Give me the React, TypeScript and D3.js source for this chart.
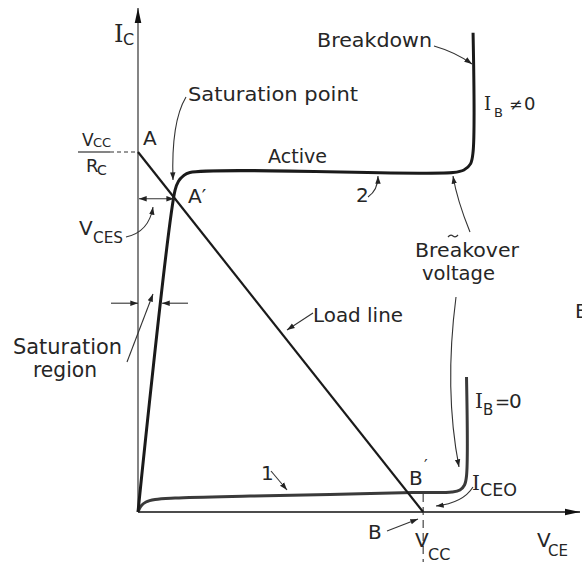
import React from "react";
import * as d3 from "d3";

// Transistor output characteristic: I_C against V_CE, with load line.
const WIDTH = 582;
const HEIGHT = 562;

const V_MAX = 15.5; // extent of the V_CE axis (arbitrary units)
const I_MAX = 14; // extent of the I_C axis (arbitrary units)
const VCC = 10; // supply voltage, where the load line meets the V_CE axis
const IC_SAT = 10; // Vcc / Rc, where the load line meets the I_C axis
const VCES = 1.3; // saturation voltage at A'

// Curve 2: I_B ≠ 0 (saturation rise, active plateau, breakdown)
const activeV = [0, 1.3, 1.42, 1.58, 1.82, 11.05, 11.43, 11.66, 11.75, 11.75];
const activeI = [0, 8.94, 9.19, 9.33, 9.43, 9.43, 9.5, 9.67, 10.0, 13.31];

// Curve 1: I_B = 0 (cut-off leakage I_CEO, then breakover)
const cutoffV = [0, 0.105, 0.28, 0.6, 1.3, 3.93, 6.73, 9.64, 11.01, 11.29, 11.45, 11.52, 11.52];
const cutoffI = [0, 0.167, 0.278, 0.347, 0.389, 0.444, 0.486, 0.542, 0.556, 0.611, 0.75, 1.0, 3.75];

// Load line from A (0, Vcc/Rc) to B (Vcc, 0)
const loadV = [0, VCC];
const loadI = [IC_SAT, 0];

const SANS = "'DejaVu Sans', 'Liberation Sans', sans-serif";
const SERIF = "'DejaVu Serif', 'Liberation Serif', serif";
const INK = "#1a1a1a";
const TEXT = "#262626";

export default function App() {
  const x = d3.scaleLinear().domain([0, V_MAX]).range([138, 580]);
  const y = d3.scaleLinear().domain([0, I_MAX]).range([512, 8]);

  const curve = d3
    .line<[number, number]>()
    .x((d) => x(d[0]))
    .y((d) => y(d[1]))
    .curve(d3.curveCatmullRom.alpha(0.5));
  const straight = d3
    .line<[number, number]>()
    .x((d) => x(d[0]))
    .y((d) => y(d[1]));

  const zip = (a: number[], b: number[]) => a.map((v, i) => [v, b[i]] as [number, number]);

  const activePath = curve(zip(activeV, activeI)) || "";
  const cutoffPath = curve(zip(cutoffV, cutoffI)) || "";
  const loadPath = straight(zip(loadV, loadI)) || "";

  // operating points
  const iAprime = IC_SAT * (1 - VCES / VCC);
  const yA = y(IC_SAT);
  const yAp = y(iAprime);
  const xAp = x(VCES);
  const xB = x(VCC);
  const x0 = x(0);
  const y0 = y(0);

  // width of the saturation region at mid height
  const satI = 5.8;
  const satX = x((activeV[1] * satI) / activeI[1]);
  const satY = y(satI);

  const leader = { fill: "none", stroke: "#333", strokeWidth: 1.1 } as const;

  return (
    <svg
      width={WIDTH}
      height={HEIGHT}
      viewBox={`0 0 ${WIDTH} ${HEIGHT}`}
      style={{ position: "absolute", left: 0, top: 0, background: "#fff" }}
    >
      <defs>
        <marker
          id="ah"
          viewBox="0 0 10 10"
          refX="10"
          refY="5"
          markerWidth="7"
          markerHeight="7"
          orient="auto-start-reverse"
        >
          <path d="M0,1.5 L10,5 L0,8.5 z" fill="#222" />
        </marker>
        <marker
          id="axisHead"
          viewBox="0 0 10 10"
          refX="10"
          refY="5"
          markerWidth="15"
          markerHeight="15"
          markerUnits="userSpaceOnUse"
          orient="auto"
        >
          <path d="M0,2.8 L10,5 L0,7.2 z" fill="#111" />
        </marker>
      </defs>
      <rect width={WIDTH} height={HEIGHT} fill="#fff" />

      {/* axes */}
      <line x1={x0} y1={y0} x2={x0} y2={y(I_MAX)} stroke="#333" strokeWidth={1.2} markerEnd="url(#axisHead)" />
      <line x1={x0} y1={y0} x2={x(V_MAX)} y2={y0} stroke="#111" strokeWidth={1.6} markerEnd="url(#axisHead)" />

      {/* Vcc/Rc projection and Vcc drop line */}
      <line x1={110} y1={yA} x2={x0} y2={yA} stroke="#333" strokeWidth={1.1} strokeDasharray="4,3" />
      <line x1={xB} y1={y(0.5)} x2={xB} y2={HEIGHT} stroke="#333" strokeWidth={1.1} strokeDasharray="8,5" />

      {/* characteristic curves */}
      <path d={cutoffPath} fill="none" stroke="#3a3a3a" strokeWidth={3} strokeLinejoin="round" />
      <path d={activePath} fill="none" stroke={INK} strokeWidth={3} strokeLinejoin="round" />
      <path d={loadPath} fill="none" stroke={INK} strokeWidth={2.2} />

      {/* V_CES dimension */}
      <line x1={x0 + 1} y1={yAp} x2={xAp - 1} y2={yAp} {...leader} markerStart="url(#ah)" markerEnd="url(#ah)" />
      {/* saturation region dimension */}
      <line x1={111} y1={satY} x2={x0} y2={satY} {...leader} markerEnd="url(#ah)" />
      <line x1={188} y1={satY} x2={satX} y2={satY} {...leader} markerEnd="url(#ah)" />

      {/* leaders */}
      <path d="M186,97 Q171,122 173,180" {...leader} markerEnd="url(#ah)" />
      <path d="M126,237 Q149,232 153,207" {...leader} markerEnd="url(#ah)" />
      <path d="M127,362 L153,294" {...leader} markerEnd="url(#ah)" />
      <path d="M313,313 L287,330" {...leader} markerEnd="url(#ah)" />
      <path d="M434,46 Q455,52 472,64" {...leader} markerEnd="url(#ah)" />
      <path d="M368,197 Q378,190 378,176" {...leader} markerEnd="url(#ah)" />
      <path d="M271,471 L287,490" {...leader} markerEnd="url(#ah)" />
      <path d="M470,232 Q457,200 453,176" {...leader} markerEnd="url(#ah)" />
      <path d="M456,297 Q444,390 459,467" {...leader} markerEnd="url(#ah)" />
      <path d="M473,487 Q463,503 436,506" {...leader} markerEnd="url(#ah)" />
      <path d="M387,531 L418,519" {...leader} markerEnd="url(#ah)" />

      {/* text labels */}
      <g fill={TEXT} fontFamily={SANS} fontSize={20}>
        <text x={114} y={42} fontFamily={SERIF} fontSize={24}>I</text>
        <text x={123} y={45} fontSize={16}>C</text>

        <text x={82} y={146} fontSize={17}>V</text>
        <text x={93} y={147} fontSize={13}>CC</text>
        <line x1={78} y1={yA} x2={110} y2={yA} stroke="#333" strokeWidth={1.2} />
        <text x={86} y={172} fontSize={18}>R</text>
        <text x={97} y={175} fontSize={14}>C</text>

        <text x={143} y={145}>A</text>
        <text x={188} y={203}>A′</text>

        <text x={79} y={235}>V</text>
        <text x={93} y={243} fontSize={16} textLength={30} lengthAdjust="spacingAndGlyphs">CES</text>

        <text x={188} y={101} textLength={170} lengthAdjust="spacingAndGlyphs">Saturation point</text>
        <text x={268} y={163} textLength={59} lengthAdjust="spacingAndGlyphs">Active</text>
        <text x={356} y={202}>2</text>
        <text x={317} y={47} textLength={115} lengthAdjust="spacingAndGlyphs">Breakdown</text>

        <text x={484} y={110} fontFamily={SERIF} fontSize={18}>I</text>
        <text x={494} y={117} fontSize={13}>B</text>
        <text x={509} y={110} fontSize={16}>≠</text>
        <text x={524} y={110} fontSize={18}>0</text>

        <text x={415} y={257} textLength={104} lengthAdjust="spacingAndGlyphs">Breakover</text>
        <path d="M448,237 q2.5,-3 5,-1 t5,-1" fill="none" stroke="#333" strokeWidth={1.2} />
        <text x={422} y={280} textLength={73} lengthAdjust="spacingAndGlyphs">voltage</text>

        <text x={313} y={322} textLength={90} lengthAdjust="spacingAndGlyphs">Load line</text>
        <text x={575} y={318}>B</text>

        <text x={13} y={354} fontSize={21} textLength={109} lengthAdjust="spacingAndGlyphs">Saturation</text>
        <text x={33} y={377} fontSize={21} textLength={64} lengthAdjust="spacingAndGlyphs">region</text>

        <text x={475} y={408} fontFamily={SERIF} fontSize={20}>I</text>
        <text x={483} y={415} fontSize={15}>B</text>
        <text x={495} y={408} fontSize={18}>=</text>
        <text x={509} y={408} fontSize={20}>0</text>

        <text x={261} y={480}>1</text>

        <text x={409} y={485}>B</text>
        <text x={424} y={471} fontSize={16}>′</text>

        <text x={472} y={490} fontFamily={SERIF} fontSize={20}>I</text>
        <text x={480} y={496} fontSize={17} textLength={37} lengthAdjust="spacingAndGlyphs">CEO</text>

        <text x={368} y={539}>B</text>
        <text x={415} y={547}>V</text>
        <text x={428} y={560} fontSize={16}>CC</text>

        <text x={537} y={547}>V</text>
        <text x={548} y={556} fontSize={15}>CE</text>
      </g>
    </svg>
  );
}
